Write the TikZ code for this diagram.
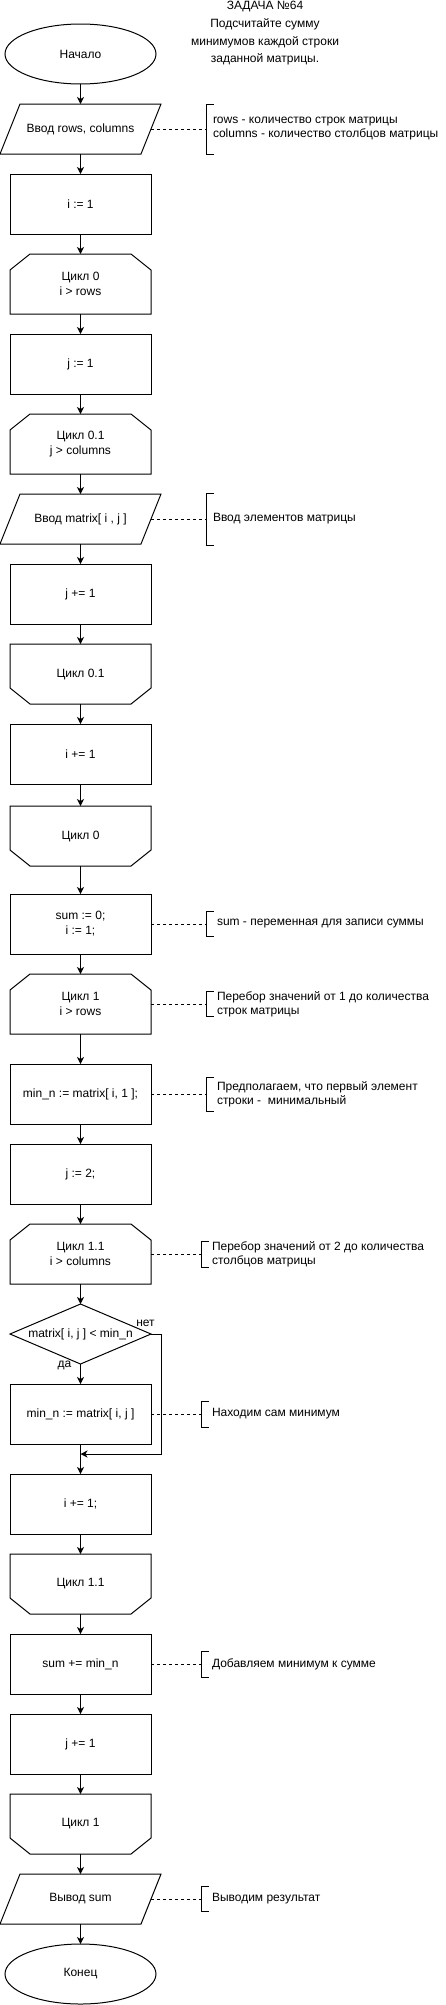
\documentclass[tikz,border=0pt]{standalone}
\usepackage{fontspec}
\setmainfont{Liberation Sans}
\usetikzlibrary{arrows.meta, positioning, shapes.geometric}

\begin{document}
\begin{tikzpicture}[x=1pt, y=-1pt, line width=1pt, node distance=20pt,
    every node/.style={font=\fontsize{12pt}{15pt}\selectfont, inner sep=0pt, outer sep=0pt, align=center},
    term/.style={ellipse, draw, minimum width=151pt, minimum height=60pt},
    proc/.style={rectangle, draw, minimum width=141pt, minimum height=60pt},
    io/.style={rectangle, minimum width=141pt, minimum height=50pt},
    loopbox/.style={rectangle, minimum width=141pt, minimum height=60pt},
    decision/.style={rectangle, minimum width=141pt, minimum height=60pt},
    flow/.style={-{Stealth[length=7pt, width=7pt, inset=2pt]}},
    note/.style={dash pattern=on 3pt off 3pt},
    notetext/.style={font=\fontsize{12pt}{14pt}\selectfont, align=left, anchor=west}]
    \useasboundingbox (0,0) rectangle (446,2005);

    \node[font=\fontsize{12pt}{17.7pt}\selectfont] (title) at (265,33.5) {ЗАДАЧА №64\\Подсчитайте сумму\\минимумов каждой строки\\заданной матрицы.};

    % main column
    \node[term] (start) at (80.5,54) {Начало};
    \node[io, below=of start] (in1) {Ввод rows, columns};
    \node[proc, below=of in1] (i1) {i := 1};
    \node[loopbox, below=of i1] (c0) {Цикл 0\\i > rows};
    \node[proc, below=of c0] (j1) {j := 1};
    \node[loopbox, below=of j1] (c01) {Цикл 0.1\\j > columns};
    \node[io, below=of c01] (in2) {Ввод matrix[ i , j ]};
    \node[proc, below=of in2] (jinc) {j += 1};
    \node[loopbox, below=of jinc] (c01e) {Цикл 0.1};
    \node[proc, below=of c01e] (iinc) {i += 1};
    \node[loopbox, below=22pt of iinc] (c0e) {Цикл 0};
    \node[proc, below=28pt of c0e] (sum0) {sum := 0;\\i := 1;};
    \node[loopbox, below=of sum0] (c1) {Цикл 1\\i > rows};
    \node[proc, below=30pt of c1] (minn1) {min\_n := matrix[ i, 1 ];};
    \node[proc, below=of minn1] (j2) {j := 2;};
    \node[loopbox, below=of j2] (c11) {Цикл 1.1\\i > columns};
    \node[decision, below=of c11] (cmp) {matrix[ i, j ] < min\_n};
    \node[proc, below=of cmp] (minn2) {min\_n := matrix[ i, j ]};
    \node[proc, below=30pt of minn2] (iinc2) {i += 1;};
    \node[loopbox, below=of iinc2] (c11e) {Цикл 1.1};
    \node[proc, below=of c11e] (suminc) {sum += min\_n};
    \node[proc, below=of suminc] (jinc2) {j += 1};
    \node[loopbox, below=of jinc2] (c1e) {Цикл 1};
    \node[io, below=of c1e] (out) {Вывод sum};
    \node[term, below=of out] (stop) {Конец};

    % outlines
    \foreach \n in {in1, in2, out}
        \draw ([xshift=-10pt]\n.south west) -- ([xshift=10pt]\n.north west) -- ([xshift=10pt]\n.north east) -- ([xshift=-10pt]\n.south east) -- cycle;
    \foreach \n in {c0, c01, c1, c11}
        \draw (\n.south west) -- ([yshift=-16pt]\n.north west) -- ([xshift=20pt]\n.north west) -- ([xshift=-20pt]\n.north east) -- ([yshift=-16pt]\n.north east) -- (\n.south east) -- cycle;
    \foreach \n in {c01e, c0e, c11e, c1e}
        \draw (\n.north west) -- ([yshift=16pt]\n.south west) -- ([xshift=20pt]\n.south west) -- ([xshift=-20pt]\n.south east) -- ([yshift=16pt]\n.south east) -- (\n.north east) -- cycle;
    \draw (cmp.north) -- (cmp.east) -- (cmp.south) -- (cmp.west) -- cycle;

    % arrows
    \foreach \a/\b in {start/in1, in1/i1, i1/c0, c0/j1, j1/c01, c01/in2, in2/jinc, jinc/c01e, c01e/iinc, iinc/c0e, c0e/sum0, sum0/c1, c1/minn1, minn1/j2, j2/c11, c11/cmp, cmp/minn2, minn2/iinc2, iinc2/c11e, c11e/suminc, suminc/jinc2, jinc2/c1e, c1e/out, out/stop}
        \draw[flow] (\a.south) -- (\b.north);
    \coordinate (skip) at ([xshift=10pt]cmp.east);
    \coordinate (join) at ([yshift=-10pt]minn2.south);
    \draw[flow] (cmp.east) -- (skip) |- (join);
    \node (no) at ([xshift=-5.5pt, yshift=11pt]cmp.east) {нет};
    \node (yes) at ([xshift=-16pt, yshift=-1pt]cmp.south) {да};

    % comments
    \foreach \src/\dx/\hh/\tx/\txt in {
        in1/55pt/25pt/7pt/{rows - количество строк матрицы\\columns - количество столбцов матрицы},
        in2/55pt/26pt/7pt/{Ввод элементов матрицы},
        sum0/55pt/12.5pt/11pt/{sum - переменная для записи суммы},
        c1/55pt/12.5pt/11pt/{Перебор значений от 1 до количества\\строк матрицы},
        minn1/55pt/17pt/11pt/{Предполагаем, что первый элемент\\строки -~~минимальный},
        c11/50pt/13pt/11pt/{Перебор значений от 2 до количества\\столбцов матрицы},
        minn2/50pt/13pt/11pt/{Находим сам минимум},
        suminc/50pt/13pt/11pt/{Добавляем минимум к сумме},
        out/50pt/12.5pt/11pt/{Выводим результат}}
    {
        \coordinate (note-\src) at ([xshift=\dx]\src.east);
        \draw[note] (\src.east) -- (note-\src);
        \draw ([xshift=8pt, yshift=\hh]note-\src) -- ([yshift=\hh]note-\src) -- ([yshift=-\hh]note-\src) -- ([xshift=8pt, yshift=-\hh]note-\src);
        \node[notetext, right=\tx of note-\src] (text-\src) {\txt};
    }
\end{tikzpicture}
\end{document}
